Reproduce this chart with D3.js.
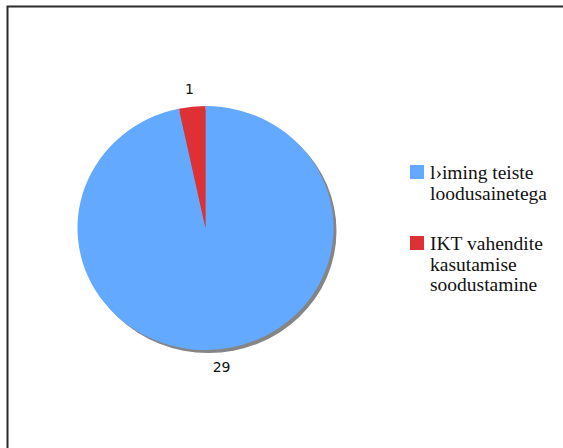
<!DOCTYPE html>
<html>
<head>
<meta charset="utf-8">
<script src="https://cdn.jsdelivr.net/npm/d3@7"></script>
<style>
  html, body { margin: 0; padding: 0; background: #fff; }
  svg { display: block; }
</style>
</head>
<body>
<svg id="chart" width="563" height="448"></svg>
<script>
// Answer categories and their counts
const categories = ["l\u203aiming teiste loodusainetega", "IKT vahendite kasutamise soodustamine"];
const values = [29, 1];
const colors = ["#63a9ff", "#dd3135"];
// Legend text, split into lines as shown
const legendLines = [
  ["l\u203aiming teiste", "loodusainetega"],
  ["IKT vahendite", "kasutamise", "soodustamine"]
];

const svg = d3.select("#chart");

// Outer frame
svg.append("rect")
  .attr("x", 7.5).attr("y", 6.5)
  .attr("width", 700).attr("height", 600)
  .attr("fill", "none")
  .attr("stroke", "#2b2b2b")
  .attr("stroke-width", 2);

const cx = 205.5, cy = 228;
const ry = 122, rx = 128;
const sx = rx / ry;

const pie = d3.pie().sort(null).value(d => d);
const arcs = pie(values);
const arc = d3.arc().innerRadius(0).outerRadius(ry);

// Drop shadow under the pie
svg.append("ellipse")
  .attr("cx", cx + 3).attr("cy", cy + 3)
  .attr("rx", rx).attr("ry", ry)
  .attr("fill", "#858585");

const g = svg.append("g")
  .attr("transform", `translate(${cx},${cy}) scale(${sx},1)`);

g.selectAll("path")
  .data(arcs)
  .enter().append("path")
  .attr("d", arc)
  .attr("fill", (d, i) => colors[i]);

// Value labels outside the slices
const labelR = 140;
svg.selectAll("text.val")
  .data(arcs)
  .enter().append("text")
  .attr("class", "val")
  .attr("x", d => {
    const a = (d.startAngle + d.endAngle) / 2;
    return cx + labelR * sx * Math.sin(a) * 1.05;
  })
  .attr("y", d => {
    const a = (d.startAngle + d.endAngle) / 2;
    return cy - labelR * Math.cos(a);
  })
  .attr("text-anchor", "middle")
  .attr("dominant-baseline", "central")
  .attr("font-family", "DejaVu Sans, Verdana, sans-serif")
  .attr("font-size", 14)
  .attr("fill", "#111")
  .text(d => d.data);

// Legend
const legendX = 410;
const legendTops = [165, 236];
const lineH = 20.5;
legendLines.forEach((lines, i) => {
  svg.append("rect")
    .attr("x", legendX).attr("y", legendTops[i])
    .attr("width", 14).attr("height", 14)
    .attr("fill", colors[i]);
  const t = svg.append("text")
    .attr("x", legendX + 20)
    .attr("y", legendTops[i] + 14)
    .attr("font-family", "Liberation Serif, Times New Roman, serif")
    .attr("font-size", 19.5)
    .attr("fill", "#111");
  lines.forEach((ln, j) => {
    t.append("tspan")
      .attr("x", legendX + 20)
      .attr("dy", j === 0 ? 0 : lineH)
      .text(ln);
  });
});
</script>
</body>
</html>
